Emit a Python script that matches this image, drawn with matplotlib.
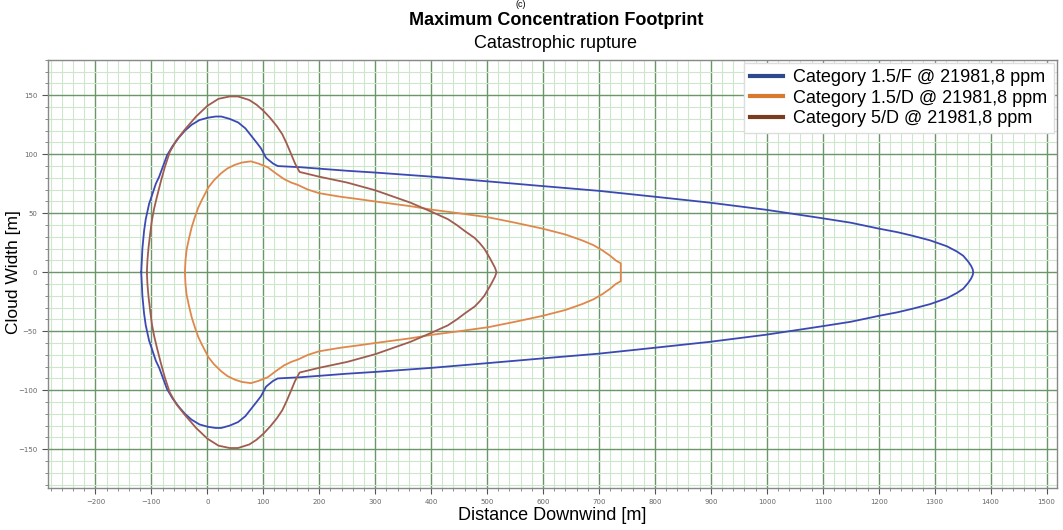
import matplotlib
matplotlib.use("Agg")
import matplotlib.pyplot as plt
from matplotlib.lines import Line2D
from matplotlib.ticker import MultipleLocator
import numpy as np

# Upper half of each footprint contour (x downwind [m], y half-width [m]);
# the lower half is the mirror image.
blue_x = [-118, -117, -116, -113, -110, -104, -99, -92, -86, -72, -62, -51, -40, -28, -14,
          1, 15, 25, 40, 55, 68, 78, 88, 96, 105, 110, 118, 126, 167, 250, 300, 402, 502,
          600, 700, 800, 898, 998, 1096, 1150, 1200, 1233, 1260, 1292, 1322, 1340, 1351,
          1360, 1365, 1368, 1369]
blue_y = [0, 10, 20, 35, 45, 58, 65, 75, 81, 99, 107, 114, 120, 125, 129,
          131, 132, 132, 130, 127, 122, 116, 110, 105, 97, 95, 92, 90, 89, 86, 84.5, 81, 77,
          73, 69, 64, 59, 53, 46, 42, 37, 34, 31, 27, 22, 17.5, 14,
          9, 5.5, 2.5, 0]

orange_x = [-40, -39, -37, -33, -28, -22, -16, -10, 2, 12, 25, 36, 49, 62, 78, 92, 108, 122,
            137, 150, 162, 180, 200, 238, 270, 300, 363, 402, 450, 502, 550, 599, 640, 670,
            690, 706, 720, 730, 739, 739]
orange_y = [0, 10, 19, 28, 38, 47, 55, 61, 72, 78, 84, 88, 91, 93, 94, 92, 89, 84,
            79, 76, 74, 70, 67, 64, 62, 60, 56, 53, 50, 46.6, 42, 37, 32, 27,
            23, 18.6, 14, 10, 7.6, 0]

brown_x = [-108, -107, -105, -102, -99, -95, -90, -83, -76, -67, -55, -40, -20, 0, 20, 40, 55,
           75, 88, 100, 112, 124, 134, 142, 150, 157, 165, 200, 250, 300, 363, 402, 430,
           446, 460, 478, 487, 495, 505, 510, 514, 517]
brown_y = [0, 10, 21, 33, 44, 54, 64, 77, 89, 102, 112, 121, 132, 141, 147, 149, 149,
           146, 142, 137, 131, 124, 117, 109, 100, 92, 85, 81, 76, 69.5, 59, 51, 45,
           40, 35, 29, 24.6, 20, 12, 7.6, 4, 0]

labels = ["Category 1.5/F @ 21981,8 ppm",
          "Category 1.5/D @ 21981,8 ppm",
          "Category 5/D @ 21981,8 ppm"]
line_colors = ["#3c48b4", "#e0874c", "#a05c50"]
legend_colors = ["#2f4a8a", "#d9792f", "#7a3c1e"]


def closed_contour(xs, ys):
    """Mirror the upper half about y=0 to get the full closed footprint."""
    xs = np.asarray(xs, dtype=float)
    ys = np.asarray(ys, dtype=float)
    full_x = np.concatenate([xs, xs[::-1]])
    full_y = np.concatenate([ys, -ys[::-1]])
    return full_x, full_y


def plot_footprint(output_path="out.png"):
    fig = plt.figure(figsize=(10.63, 5.30), dpi=100)
    ax = fig.add_axes([0.045, 0.079, 0.949, 0.808])

    curves = [(blue_x, blue_y), (orange_x, orange_y), (brown_x, brown_y)]
    for (xs, ys), color in zip(curves, line_colors):
        fx, fy = closed_contour(xs, ys)
        ax.plot(fx, fy, color=color, lw=1.3, zorder=3, solid_joinstyle="round")

    ax.set_xlim(-285, 1518)
    ax.set_ylim(-183, 180)

    ax.xaxis.set_major_locator(MultipleLocator(100))
    ax.xaxis.set_minor_locator(MultipleLocator(20))
    ax.yaxis.set_major_locator(MultipleLocator(50))
    ax.yaxis.set_minor_locator(MultipleLocator(10))
    ax.grid(which="major", color="#6a966a", lw=1.0, zorder=1)
    ax.grid(which="minor", color="#cbe8cb", lw=0.8, zorder=0)
    ax.set_axisbelow(True)

    ax.tick_params(which="major", labelsize=5, labelcolor="#666666", color="#555555",
                   length=4, width=0.8)
    ax.tick_params(which="minor", color="#777777", length=2, width=0.6)
    for spine in ax.spines.values():
        spine.set_color("#888888")
        spine.set_linewidth(1.0)

    ax.set_xlabel("Distance Downwind [m]", fontsize=13, family="Liberation Sans",
                  labelpad=2)
    fig.text(14 / 1063, 0.487, "Cloud Width [m]", rotation=90, ha="center", va="center",
             fontsize=12.5, family="Liberation Sans")

    fig.text(0.49, 1.0, "(c)", ha="center", va="top", fontsize=6.5,
             family="Liberation Sans")
    fig.text(0.523, 0.962, "Maximum Concentration Footprint", ha="center", va="center",
             fontsize=13, fontweight="bold", family="Liberation Sans")
    fig.text(0.523, 0.918, "Catastrophic rupture", ha="center", va="center",
             fontsize=13, family="Liberation Sans")

    handles = [Line2D([0], [0], color=c, lw=3) for c in legend_colors]
    leg = ax.legend(handles, labels, loc="upper right",
                    prop={"family": "Liberation Sans", "size": 13},
                    frameon=True, facecolor="white", edgecolor="#dddddd", framealpha=1,
                    fancybox=False, handlelength=1.8, labelspacing=0.2,
                    borderaxespad=0.15, borderpad=0.35, handletextpad=0.6)
    leg.set_zorder(5)

    fig.savefig(output_path, dpi=100)
    plt.close(fig)


if __name__ == "__main__":
    plot_footprint()
